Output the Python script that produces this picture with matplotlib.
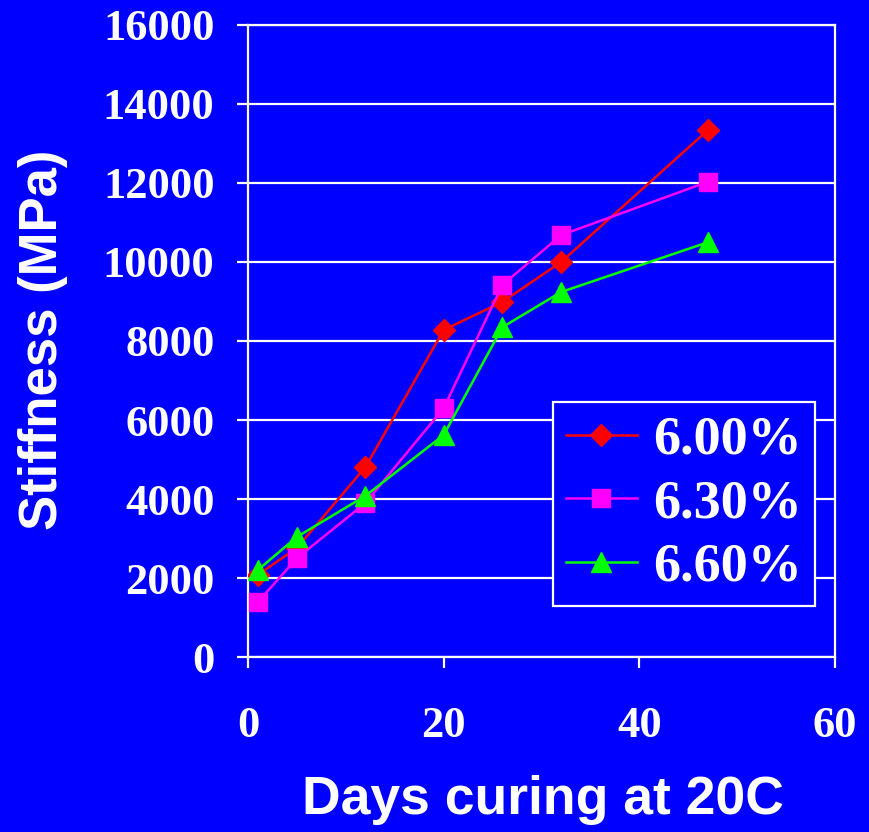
import matplotlib.pyplot as plt

days = [1, 5, 12, 20, 26, 32, 47]
stiff_600 = [2080, 2760, 4810, 8280, 8990, 10000, 13340]
stiff_630 = [1390, 2500, 3900, 6300, 9420, 10680, 12030]
stiff_660 = [2200, 3040, 4080, 5620, 8350, 9240, 10500]
labels = ['6.00%', '6.30%', '6.60%']

bg = '#0000FF'
serif = 'Liberation Serif'
sans = 'Liberation Sans'

fig = plt.figure(figsize=(8.7, 8.32), dpi=100, facecolor=bg)
ax = fig.add_axes([0.285, 0.2103, 0.675, 0.7597], facecolor=bg)

ax.plot(days, stiff_600, color='#FF0000', lw=1.8, marker='D', ms=11,
        mec='#FF0000', label=labels[0], zorder=3)
ax.plot(days, stiff_630, color='#FF00FF', lw=1.8, marker='s', ms=13,
        mec='#FF00FF', label=labels[1], zorder=3)
ax.plot(days, stiff_660, color='#00FF00', lw=1.8, marker='^', ms=15,
        mec='#00FF00', label=labels[2], zorder=3)

ax.set_xlim(0, 60)
ax.set_ylim(0, 16000)
ax.set_xticks(range(0, 61, 20))
ax.set_yticks(range(0, 16001, 2000))
ax.yaxis.grid(True, color='white', lw=1.6)
ax.set_axisbelow(True)

for s in ax.spines.values():
    s.set_color('white')
    s.set_linewidth(1.6)

ax.tick_params(axis='both', colors='white', length=8, width=1.6)
ax.tick_params(axis='y', pad=16)
ax.tick_params(axis='x', pad=27)
for lab in ax.get_xticklabels() + ax.get_yticklabels():
    lab.set_fontfamily(serif)
    lab.set_fontweight('bold')
    lab.set_fontsize(32)
    lab.set_color('white')

fig.text(0.05, 0.591, 'Stiffness (MPa)', rotation=90, ha='center', va='center',
         color='white', fontsize=38, fontweight='bold', family=sans)
fig.text(0.624, 0.038, 'Days curing at 20C', ha='center', va='center',
         color='white', fontsize=38.5, fontweight='bold', family=sans)

leg = ax.legend(loc='lower right', bbox_to_anchor=(0.966, 0.08),
                prop={'family': serif, 'weight': 'bold', 'size': 39},
                frameon=True, fancybox=False, handlelength=1.3,
                handletextpad=0.3, borderpad=0.25, labelspacing=0.25,
                borderaxespad=0)
leg.get_frame().set_facecolor(bg)
leg.get_frame().set_edgecolor('white')
leg.get_frame().set_linewidth(1.6)
leg.get_frame().set_alpha(1)
for t in leg.get_texts():
    t.set_color('white')

fig.savefig('out.png', dpi=100, facecolor=bg)
